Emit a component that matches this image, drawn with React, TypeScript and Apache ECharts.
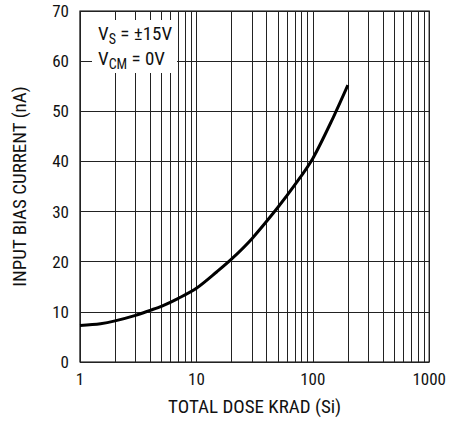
import React, { useEffect, useRef } from "react";
import * as echarts from "echarts";

const DOSE = [1, 1.5, 2, 3, 4, 5, 7, 10, 15, 20, 30, 50, 70, 100, 150, 200];
const CURRENT = [7.3, 7.65, 8.2, 9.3, 10.3, 11.1, 12.7, 14.7, 18.0, 20.5, 24.6, 30.8, 35.3, 40.6, 48.8, 55.2];
const MINOR_X = [2, 3, 4, 5, 6, 7, 8, 9, 20, 30, 40, 50, 60, 70, 80, 90, 200, 300, 400, 500, 600, 700, 800, 900];
const X_MIN = 1;
const X_MAX = 1000;
const Y_MIN = 0;
const Y_MAX = 70;
const Y_STEP = 10;
const X_TITLE = "TOTAL DOSE KRAD (Si)";
const Y_TITLE = "INPUT BIAS CURRENT (nA)";
const NOTE = "{m|V}{s|S}{m| = ±15V}\n{m|V}{s|CM}{m| = 0V}";

const FONT = "'Roboto Condensed', 'Arial Narrow', 'Liberation Sans', sans-serif";

export default function App() {
  const ref = useRef<HTMLDivElement>(null);
  useEffect(() => {
    if (!ref.current) return;
    const chart = echarts.init(ref.current, null, { renderer: "svg" });
    chart.setOption({
      animation: false,
      backgroundColor: "#fff",
      textStyle: { fontFamily: FONT },
      grid: {
        left: 80,
        top: 11,
        width: 352,
        height: 351,
        show: true,
        borderColor: "#000",
        borderWidth: 1.2,
        backgroundColor: "transparent",
      },
      xAxis: {
        type: "log",
        logBase: 10,
        min: X_MIN,
        max: X_MAX,
        name: X_TITLE,
        nameLocation: "middle",
        nameGap: 35,
        nameTextStyle: { fontFamily: FONT, fontSize: 19, fontWeight: 400, color: "#111" },
        axisLine: { show: false },
        axisTick: { show: false },
        axisLabel: {
          margin: 8,
          fontFamily: FONT,
          fontSize: 17,
          fontWeight: 400,
          color: "#111",
          formatter: (v: number) => String(v),
        },
        splitLine: { show: true, lineStyle: { color: "#222", width: 1 } },
      },
      yAxis: {
        type: "value",
        min: Y_MIN,
        max: Y_MAX,
        interval: Y_STEP,
        name: Y_TITLE,
        nameLocation: "middle",
        nameGap: 51,
        nameTextStyle: { fontFamily: FONT, fontSize: 19, fontWeight: 400, color: "#111" },
        axisLine: { show: false },
        axisTick: { show: false },
        axisLabel: {
          margin: 11,
          fontFamily: FONT,
          fontSize: 17,
          fontWeight: 400,
          color: "#111",
        },
        splitLine: { show: true, lineStyle: { color: "#222", width: 1 } },
      },
      series: [
        {
          type: "line",
          data: DOSE.map((x, i) => [x, CURRENT[i]]),
          smooth: 0.3,
          symbol: "none",
          lineStyle: { color: "#000", width: 3 },
          z: 5,
          markLine: {
            silent: true,
            symbol: ["none", "none"],
            label: { show: false },
            lineStyle: { color: "#222", width: 1, type: "solid" },
            data: MINOR_X.map((v) => ({ xAxis: v })),
            z: 1,
          },
        },
      ],
      graphic: [
        {
          type: "rect",
          z: 100,
          shape: { x: 92, y: 20, width: 85, height: 53 },
          style: { fill: "#fff" },
        },
        {
          type: "text",
          z: 101,
          x: 98,
          y: 21,
          style: {
            text: NOTE,
            fill: "#111",
            rich: {
              m: { fontFamily: FONT, fontSize: 19, fontWeight: 400, lineHeight: 25, fill: "#111" },
              s: { fontFamily: FONT, fontSize: 14, fontWeight: 400, lineHeight: 9, verticalAlign: "bottom", fill: "#111" },
            },
          },
        },
      ],
    });
    return () => chart.dispose();
  }, []);
  return <div ref={ref} style={{ width: 449, height: 421, position: "absolute", left: 0, top: 0 }} />;
}
